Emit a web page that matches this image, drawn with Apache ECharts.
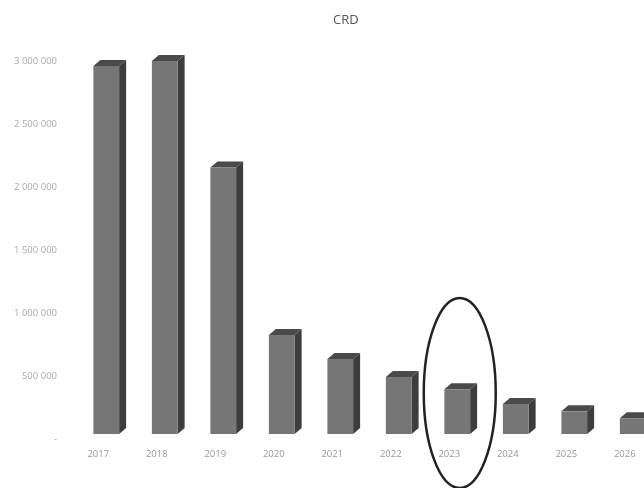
<!DOCTYPE html>
<html>
<head>
<meta charset="utf-8">
<style>
  html, body { margin: 0; padding: 0; background: #fff; overflow: hidden; }
  /* last bar runs off the right edge in the original, so the canvas is wider than the window */
  #chart { width: 660px; height: 488px; }
</style>
<script src="https://cdn.jsdelivr.net/npm/echarts@6/dist/echarts.min.js"></script>
</head>
<body>
<div id="chart"></div>
<script>
  var years = ['2017', '2018', '2019', '2020', '2021', '2022', '2023', '2024', '2025', '2026'];
  var crd = [2920000, 2960000, 2115000, 785000, 595000, 452000, 355000, 238000, 180000, 125000];
  var circledYear = ['2023'];

  var myChart = echarts.init(document.getElementById('chart'));

  // 3d look: front face plus top and side faces, front sits right of the label
  function renderBar(params, api) {
    var base = api.coord([api.value(0), 0]);
    var top = api.coord([api.value(0), api.value(1)]);
    var w = api.size([1, 0])[0] * 0.44;
    var dx = 7, dy = 6;
    var x0 = base[0] + 8 - w / 2, x1 = x0 + w;
    var y0 = top[1] - 5, y1 = base[1] - 5;
    return {
      type: 'group',
      children: [
        { type: 'polygon', shape: { points: [[x0, y0], [x0 + dx, y0 - dy], [x1 + dx, y0 - dy], [x1, y0]] }, style: { fill: '#4a4a4a' } },
        { type: 'polygon', shape: { points: [[x1, y0], [x1 + dx, y0 - dy], [x1 + dx, y1 - dy], [x1, y1]] }, style: { fill: '#3d3d3d' } },
        { type: 'rect', shape: { x: x0, y: y0, width: w, height: y1 - y0 }, style: { fill: '#767676' } }
      ]
    };
  }

  function renderRing(params, api) {
    var c = api.coord([api.value(0), 0]);
    return {
      type: 'ellipse',
      shape: { cx: c[0] + 10.5, cy: c[1] - 46, rx: 36, ry: 95 },
      style: { fill: 'none', stroke: '#222', lineWidth: 2.5 }
    };
  }

  myChart.setOption({
    animation: false,
    backgroundColor: '#fff',
    title: {
      text: 'CRD',
      left: 328,
      top: 9,
      textStyle: { fontFamily: 'Open Sans', fontSize: 13, fontWeight: 'normal', color: '#555' }
    },
    grid: { left: 69, top: 61, width: 585, height: 378 },
    xAxis: {
      type: 'category',
      data: years,
      axisLine: { show: false },
      axisTick: { show: false },
      axisLabel: { interval: 0, margin: 10, fontFamily: 'Open Sans', fontSize: 9.5, color: '#999' }
    },
    yAxis: {
      type: 'value',
      min: 0,
      max: 3000000,
      interval: 500000,
      axisLine: { show: false },
      axisTick: { show: false },
      splitLine: { show: false },
      axisLabel: {
        margin: 12,
        fontFamily: 'Open Sans',
        fontSize: 9.5,
        color: '#aaa',
        formatter: function (value) {
          if (value === 0) return '-';
          return String(value).replace(/\B(?=(\d{3})+$)/g, ' ');
        }
      }
    },
    series: [
      {
        name: 'CRD',
        type: 'custom',
        clip: false,
        renderItem: renderBar,
        encode: { x: 0, y: 1 },
        data: years.map(function (y, i) { return [i, crd[i]]; })
      },
      {
        type: 'custom',
        clip: false,
        renderItem: renderRing,
        encode: { x: 0 },
        data: circledYear.map(function (y) { return [years.indexOf(y)]; })
      }
    ]
  });
</script>
</body>
</html>
